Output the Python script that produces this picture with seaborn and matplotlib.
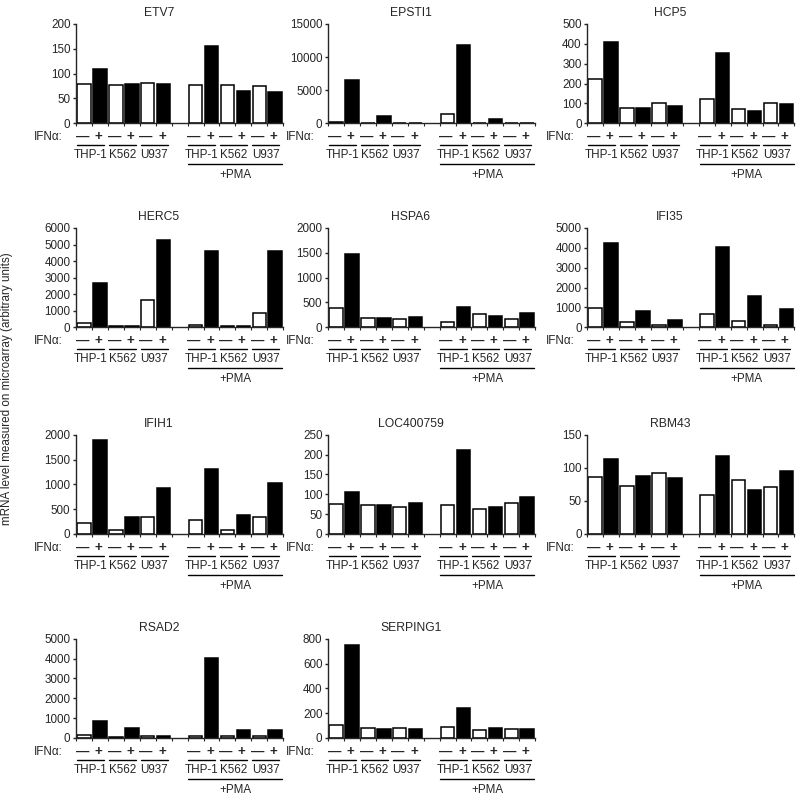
import numpy as np
import pandas as pd
import seaborn as sns
import matplotlib.pyplot as plt
from matplotlib.transforms import blended_transform_factory

# bar order: THP-1 -, +, K562 -, +, U937 -, +, then the same with +PMA
cells = ['THP-1', 'K562', 'U937']
ifn_signs = ['—', '+']

genes = ['ETV7', 'EPSTI1', 'HCP5', 'HERC5', 'HSPA6', 'IFI35',
         'IFIH1', 'LOC400759', 'RBM43', 'RSAD2', 'SERPING1']
y_max = [200, 15000, 500, 6000, 2000, 5000, 2000, 250, 150, 5000, 800]
y_step = [50, 5000, 100, 1000, 500, 1000, 500, 50, 50, 1000, 200]

etv7 = [80, 110, 78, 79, 81, 80, 77, 155, 77, 64, 76, 62]
epsti1 = [250, 6500, 100, 1050, 80, 50, 1400, 11900, 80, 650, 100, 50]
hcp5 = [225, 410, 78, 78, 100, 85, 120, 355, 70, 62, 103, 98]
herc5 = [280, 2700, 80, 80, 1650, 5300, 150, 4600, 70, 70, 880, 4600]
hspa6 = [390, 1480, 185, 190, 175, 210, 110, 415, 275, 235, 175, 290]
ifi35 = [960, 4250, 250, 820, 130, 340, 690, 4030, 330, 1590, 120, 900]
ifih1 = [220, 1890, 75, 340, 335, 935, 290, 1320, 85, 385, 333, 1020]
loc400759 = [75, 107, 74, 73, 69, 79, 72, 211, 62, 67, 77, 94]
rbm43 = [86, 113, 73, 87, 92, 85, 59, 118, 82, 66, 71, 95]
rsad2 = [150, 850, 70, 480, 100, 120, 100, 4050, 80, 420, 80, 380]
serping1 = [105, 750, 80, 70, 78, 72, 85, 240, 65, 80, 72, 72]

all_values = [etv7, epsti1, hcp5, herc5, hspa6, ifi35,
              ifih1, loc400759, rbm43, rsad2, serping1]

conds = [f'{p}{c} {s}' for p in ['', 'PMA '] for c in cells for s in ifn_signs]
order = conds[:6] + ['gap'] + conds[6:]

sns.set_style('ticks')
plt.rcParams['font.family'] = ['Liberation Sans', 'DejaVu Sans']
plt.rcParams['axes.linewidth'] = 1.0

fig = plt.figure(figsize=(8, 8), dpi=100)
lefts = [0.095, 0.41, 0.734]
bottoms = [0.846, 0.591, 0.3325, 0.0775]
w, h = 0.259, 0.124
fs = 8.4

for i, gene in enumerate(genes):
    ax = fig.add_axes([lefts[i % 3], bottoms[i // 3], w, h])
    df = pd.DataFrame({'cond': conds,
                       'IFNa': ifn_signs * 6,
                       'value': all_values[i]})
    sns.barplot(data=df, x='cond', y='value', hue='IFNa', order=order,
                palette={'—': 'white', '+': 'black'}, dodge=False,
                width=0.85, edgecolor='black', linewidth=1.1,
                errorbar=None, legend=False, ax=ax)
    ax.set_xlim(-0.45, 12.45)
    ax.set_ylim(0, y_max[i])
    ax.set_yticks(np.arange(0, y_max[i] + 1, y_step[i]))
    ax.set_xticks(np.arange(-0.5, 13, 1))
    ax.set_xticklabels([])
    ax.tick_params(axis='y', labelsize=fs, length=2.5, width=1.0, pad=1.5)
    ax.tick_params(axis='x', length=2, width=0.8)
    ax.set_xlabel('')
    ax.set_ylabel('')
    sns.despine(ax=ax)

    ax.text(0.4, 1.05, gene, transform=ax.transAxes, ha='center',
            va='bottom', fontsize=fs + 0.3)

    tr = blended_transform_factory(ax.transData, ax.transAxes)
    ax.text(-0.063, -0.14, 'IFNα:', transform=ax.transAxes, ha='right',
            va='center', fontsize=fs)
    positions = [0, 1, 2, 3, 4, 5, 7, 8, 9, 10, 11, 12]
    for k, xp in enumerate(positions):
        ax.text(xp - 0.1, -0.14, ifn_signs[k % 2], transform=tr,
                ha='center', va='center', fontsize=fs + 1.2,
                fontweight='bold')
    for g in range(6):
        xc = positions[2 * g] + 0.4
        ax.plot([xc - 0.85, xc + 0.85], [-0.22, -0.22], transform=tr,
                color='black', lw=1.0, clip_on=False)
        ax.text(xc, -0.32, cells[g % 3], transform=tr, ha='center',
                va='center', fontsize=fs)
    ax.plot([6.55, 12.45], [-0.41, -0.41], transform=tr, color='black',
            lw=1.0, clip_on=False)
    ax.text(9.5, -0.52, '+PMA', transform=tr, ha='center', va='center',
            fontsize=fs)

fig.text(0.009, 0.514, 'mRNA level measured on microarray (arbitrary units)',
         rotation=90, ha='center', va='center', fontsize=fs)

plt.savefig('out.png', dpi=100)
